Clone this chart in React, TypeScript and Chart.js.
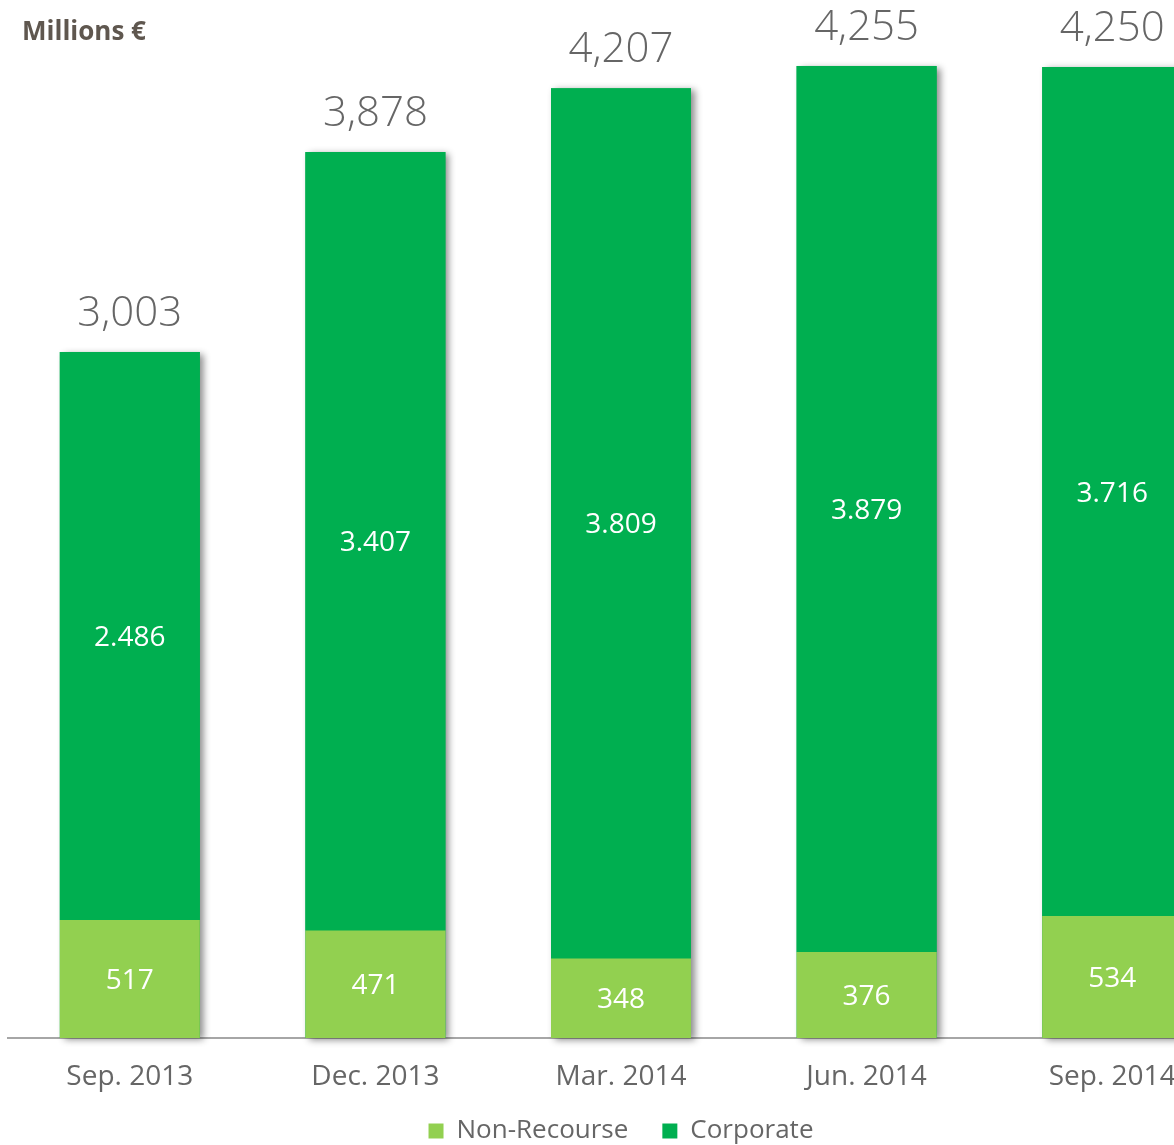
import React, { useEffect, useRef } from "react";
import { Chart, registerables } from "chart.js";

Chart.register(...registerables);

const categories = ["Sep. 2013", "Dec. 2013", "Mar. 2014", "Jun. 2014", "Sep. 2014"];
const nonRecourse = [517, 471, 348, 376, 534];
const corporate = [2486, 3407, 3809, 3879, 3716];
const totals = ["3,003", "3,878", "4,207", "4,255", "4,250"];
const corporateLabels = ["2.486", "3.407", "3.809", "3.879", "3.716"];
const nonRecourseLabels = ["517", "471", "348", "376", "534"];
const title = "Millions €";

const LIGHT = "#92D050";
const DARK = "#00AF50";
const FONT = "'Open Sans', 'Noto Sans', sans-serif";

const shadowPlugin = {
  id: "barShadow",
  afterLayout(chart: any) {
    const l = chart.legend;
    if (l) {
      l.top -= 14;
      l.bottom -= 14;
    }
  },
  beforeDatasetsDraw(chart: any) {
    const ctx = chart.ctx;
    const m0 = chart.getDatasetMeta(0);
    const m1 = chart.getDatasetMeta(1);
    ctx.save();
    ctx.shadowColor = "rgba(0,0,0,0.45)";
    ctx.shadowBlur = 7;
    ctx.shadowOffsetX = 4;
    ctx.shadowOffsetY = 2;
    ctx.fillStyle = DARK;
    m0.data.forEach((el: any, i: number) => {
      const top = m1.data[i].y;
      const base = el.base;
      const w = el.width;
      ctx.fillRect(el.x - w / 2, top, w, base - top);
    });
    ctx.restore();
  },
  afterDatasetsDraw(chart: any) {
    const ctx = chart.ctx;
    const m0 = chart.getDatasetMeta(0);
    const m1 = chart.getDatasetMeta(1);
    ctx.save();
    ctx.textAlign = "center";
    ctx.textBaseline = "middle";
    m0.data.forEach((el: any, i: number) => {
      const e1 = m1.data[i];
      ctx.fillStyle = "#ffffff";
      ctx.font = `28px ${FONT}`;
      ctx.fillText(nonRecourseLabels[i], el.x, (el.y + el.base) / 2 + 2);
      ctx.fillText(corporateLabels[i], e1.x, (e1.y + e1.base) / 2 + 2);
      ctx.fillStyle = "#666666";
      ctx.font = `300 42px ${FONT}`;
      ctx.fillText(totals[i], e1.x, e1.y - 38);
    });
    ctx.restore();
  },
  afterDraw(chart: any) {
    const ctx = chart.ctx;
    ctx.save();
    ctx.fillStyle = "#5F574F";
    ctx.font = `bold 26px ${FONT}`;
    ctx.textAlign = "left";
    ctx.textBaseline = "middle";
    ctx.fillText(title, 15, 33);
    ctx.restore();
  },
};

export default function App() {
  const ref = useRef<HTMLCanvasElement>(null);
  useEffect(() => {
    if (!ref.current) return;
    const chart = new Chart(ref.current, {
      type: "bar",
      data: {
        labels: categories,
        datasets: [
          { label: "Non-Recourse", data: nonRecourse, backgroundColor: LIGHT },
          { label: "Corporate", data: corporate, backgroundColor: DARK },
        ],
      },
      options: {
        animation: false,
        responsive: false,
        maintainAspectRatio: false,
        devicePixelRatio: 1,
        events: [],
        layout: { padding: { top: 10, left: 0, right: 0, bottom: 0 } },
        datasets: { bar: { barPercentage: 1, categoryPercentage: 0.57 } },
        scales: {
          x: {
            stacked: true,
            grid: { display: false, drawTicks: false },
            border: { display: true, color: "#A6A6A6", width: 2 },
            ticks: { color: "#666666", font: { family: FONT, size: 28 }, padding: 22 },
            afterFit(scale: any) {
              scale.height = 60;
            },
          },
          y: {
            stacked: true,
            display: false,
            min: 0,
            max: 4500,
          },
        },
        plugins: {
          legend: {
            position: "bottom",
            labels: {
              boxWidth: 15,
              boxHeight: 15,
              padding: 34,
              color: "#666666",
              font: { family: FONT, size: 26 },
            },
          },
          tooltip: { enabled: false },
        },
      },
      plugins: [shadowPlugin],
    });
    return () => chart.destroy();
  }, []);
  return (
    <div style={{ position: "absolute", left: 0, top: 0, width: 1174, height: 1145, overflow: "hidden", background: "#fff" }}>
      <canvas ref={ref} width={1228} height={1168} style={{ position: "absolute", left: 7, top: 0, width: 1228, height: 1168 }} />
    </div>
  );
}
